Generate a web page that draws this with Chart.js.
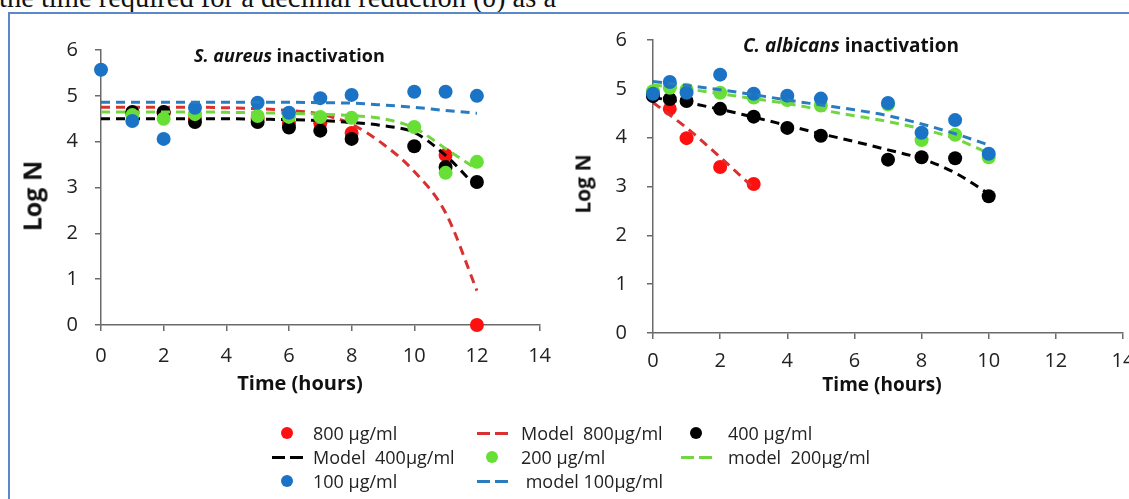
<!DOCTYPE html>
<html>
<head>
<meta charset="utf-8">
<script src="https://cdn.jsdelivr.net/npm/chart.js@4.4.1/dist/chart.umd.min.js"></script>
<style>
  html, body { margin: 0; padding: 0; background: #fff; }
  body { width: 1129px; height: 499px; overflow: hidden; position: relative; font-family: 'Open Sans', sans-serif; }
  #topText { position: absolute; left: -1px; top: -16px; font-family: 'Liberation Serif', serif; font-size: 28.5px; line-height: 1; white-space: pre; color: #111; }
  #frame { position: absolute; left: 8px; top: 12px; width: 2000px; height: 2000px; border-top: 2px solid #5a88c8; border-left: 2px solid #5a88c8; }
  canvas { position: absolute; top: 0; }
  #leftCanvas { left: 0; }
  #rightCanvas { left: 560px; }
  .plotTitle { position: absolute; font-weight: bold; line-height: 1; white-space: pre; color: #111; }
  .axisTitle { position: absolute; font-weight: bold; line-height: 1; white-space: pre; color: #111; transform: translate(-50%, -50%); }
  .axisTitle.vert { transform: translate(-50%, -50%) rotate(-90deg); }
  .legText { position: absolute; font-size: 18px; line-height: 24px; white-space: pre; color: #222; }
  .legDot { position: absolute; width: 12px; height: 12px; border-radius: 50%; }
  .legDash { position: absolute; width: 13px; height: 3px; }
</style>
</head>
<body>
<div id="topText">the time required for a decimal reduction (δ) as a</div>
<div id="frame"></div>
<canvas id="leftCanvas" width="564" height="400"></canvas>
<canvas id="rightCanvas" width="593" height="398"></canvas>
<div class="plotTitle" style="left:194px; top:46px; font-size:18px;"><i>S. aureus</i> inactivation</div>
<div class="plotTitle" style="left:743px; top:36px; font-size:19px;"><i>C. albicans</i> inactivation</div>
<div class="axisTitle" style="left:300px; top:383px; font-size:20px;">Time (hours)</div>
<div class="axisTitle" style="left:882px; top:384px; font-size:19px;">Time (hours)</div>
<div class="axisTitle vert" style="left:32px; top:196px; font-size:25px;">Log N</div>
<div class="axisTitle vert" style="left:583px; top:184px; font-size:21px;">Log N</div>
<div id="legend"></div>
<script>
// ---- S. aureus data ----
var saBlueTime = [0, 1, 2, 3, 5, 6, 7, 8, 10, 11, 12];
var saBlue = [5.57, 4.45, 4.06, 4.74, 4.85, 4.63, 4.95, 5.02, 5.09, 5.09, 5.0];
var saRedTime = [1, 2, 3, 5, 6, 7, 8, 11, 12];
var saRed = [4.62, 4.62, 4.5, 4.5, 4.4, 4.4, 4.19, 3.71, 0];
var saTime = [1, 2, 3, 5, 6, 7, 8, 10, 11, 12];
var saBlack = [4.65, 4.65, 4.43, 4.43, 4.31, 4.24, 4.06, 3.9, 3.45, 3.12];
var saGreen = [4.58, 4.5, 4.6, 4.56, 4.54, 4.54, 4.52, 4.32, 3.32, 3.56];

var saModelTime = [0, 1, 2, 3, 4, 5, 6, 7, 8, 9, 10, 11, 12];
var saRedModel = [4.75, 4.75, 4.75, 4.75, 4.74, 4.72, 4.68, 4.6, 4.38, 3.95, 3.35, 2.45, 0.75];
var saBlackModel = [4.5, 4.5, 4.5, 4.5, 4.5, 4.49, 4.48, 4.46, 4.42, 4.35, 4.2, 3.7, 3.0];
var saGreenModel = [4.65, 4.65, 4.65, 4.65, 4.64, 4.63, 4.62, 4.6, 4.57, 4.5, 4.3, 3.85, 3.4];
var saBlueModel = [4.86, 4.86, 4.86, 4.86, 4.86, 4.86, 4.86, 4.85, 4.84, 4.8, 4.75, 4.68, 4.62];

// ---- C. albicans data ----
var caTime = [0, 0.5, 1, 2, 3, 4, 5, 7, 8, 9, 10];
var caRedTime = [0, 0.5, 1, 2, 3];
var caRed = [4.88, 4.59, 3.99, 3.4, 3.05];
var caBlack = [4.85, 4.79, 4.75, 4.59, 4.43, 4.2, 4.04, 3.55, 3.6, 3.58, 2.8];
var caGreen = [4.95, 5.02, 4.98, 4.92, 4.82, 4.77, 4.66, 4.68, 3.95, 4.06, 3.6];
var caBlue = [4.9, 5.14, 4.92, 5.29, 4.9, 4.86, 4.8, 4.71, 4.1, 4.36, 3.67];

var caModelTime = [0, 1, 2, 3, 4, 5, 6, 7, 8, 9, 10];
var caRedModelTime = [0, 1, 2, 3];
var caRedModel = [4.72, 4.2, 3.6, 2.97];
var caBlackModel = [4.82, 4.72, 4.58, 4.42, 4.25, 4.08, 3.92, 3.75, 3.57, 3.28, 2.85];
var caGreenModel = [5.08, 5.0, 4.9, 4.8, 4.7, 4.57, 4.45, 4.33, 4.18, 3.98, 3.68];
var caBlueModel = [5.15, 5.07, 4.98, 4.88, 4.77, 4.67, 4.57, 4.45, 4.28, 4.08, 3.85];

// axis ticks
var xTicks = [0, 2, 4, 6, 8, 10, 12, 14];
var yTicks = [0, 1, 2, 3, 4, 5, 6];

// series labels (legend order)
var seriesLabels = ['800 µg/ml', 'Model  800µg/ml', '400 µg/ml', 'Model  400µg/ml',
                    '200 µg/ml', 'model  200µg/ml', '100 µg/ml', ' model 100µg/ml'];

var dotColors = { red: '#ff1010', black: '#000000', green: '#66e034', blue: '#1a73c5' };
var lineColors = { red: '#d93030', black: '#000000', green: '#72d640', blue: '#2a7cc0' };

Chart.defaults.font.family = "'Open Sans', sans-serif";

function pairs(xs, ys) {
  return xs.map(function(x, i) { return { x: x, y: ys[i] }; });
}

function dots(label, xs, ys, color, order) {
  return {
    label: label, data: pairs(xs, ys), showLine: false,
    pointRadius: 7, pointHoverRadius: 7, pointBorderWidth: 0,
    backgroundColor: color, borderColor: color, clip: false, order: order
  };
}

function model(label, xs, ys, color, order) {
  return {
    label: label, data: pairs(xs, ys), showLine: true, pointRadius: 0,
    borderColor: color, borderWidth: 3, borderDash: [9, 6],
    cubicInterpolationMode: 'monotone', fill: false, clip: false, order: order
  };
}

function makeOptions(cfg) {
  return {
    responsive: false,
    animation: false,
    events: [],
    layout: { padding: { top: cfg.top, right: cfg.right, left: 0, bottom: 0 } },
    plugins: { legend: { display: false }, tooltip: { enabled: false } },
    scales: {
      x: {
        type: 'linear', min: 0, max: 14,
        afterBuildTicks: function(scale) { scale.ticks = xTicks.map(function(v) { return { value: v }; }); },
        ticks: { padding: cfg.xPad, color: '#222', font: { size: 20 } },
        grid: { drawOnChartArea: false, drawTicks: true, tickLength: 6, color: '#6a6a6a', lineWidth: 1.5 },
        border: { color: '#6a6a6a', width: 1.5 },
        afterFit: function(scale) { scale.height = cfg.xHeight; }
      },
      y: {
        type: 'linear', min: 0, max: 6,
        afterBuildTicks: function(scale) { scale.ticks = yTicks.map(function(v) { return { value: v }; }); },
        ticks: { padding: cfg.yPad, color: '#222', font: { size: 20 } },
        grid: { drawOnChartArea: false, drawTicks: true, tickLength: 6, color: '#6a6a6a', lineWidth: 1.5 },
        border: { color: '#6a6a6a', width: 1.5 },
        afterFit: function(scale) { scale.width = cfg.yWidth; }
      }
    }
  };
}

// Excel series order: later series drawn on top -> lower "order" value on top in Chart.js
new Chart(document.getElementById('leftCanvas').getContext('2d'), {
  type: 'scatter',
  data: {
    datasets: [
      dots(seriesLabels[0], saRedTime, saRed, dotColors.red, 8),
      model(seriesLabels[1], saModelTime, saRedModel, lineColors.red, 7),
      dots(seriesLabels[2], saTime, saBlack, dotColors.black, 6),
      model(seriesLabels[3], saModelTime, saBlackModel, lineColors.black, 5),
      dots(seriesLabels[4], saTime, saGreen, dotColors.green, 4),
      model(seriesLabels[5], saModelTime, saGreenModel, lineColors.green, 3),
      dots(seriesLabels[6], saBlueTime, saBlue, dotColors.blue, 2),
      model(seriesLabels[7], saModelTime, saBlueModel, lineColors.blue, 1)
    ]
  },
  options: makeOptions({ top: 50, right: 16, xPad: 13, xHeight: 75, yPad: 17, yWidth: 101 })
});

new Chart(document.getElementById('rightCanvas').getContext('2d'), {
  type: 'scatter',
  data: {
    datasets: [
      dots(seriesLabels[0], caRedTime, caRed, dotColors.red, 8),
      model(seriesLabels[1], caRedModelTime, caRedModel, lineColors.red, 7),
      dots(seriesLabels[2], caTime, caBlack, dotColors.black, 6),
      model(seriesLabels[3], caModelTime, caBlackModel, lineColors.black, 5),
      dots(seriesLabels[4], caTime, caGreen, dotColors.green, 4),
      model(seriesLabels[5], caModelTime, caGreenModel, lineColors.green, 3),
      dots(seriesLabels[6], caTime, caBlue, dotColors.blue, 2),
      model(seriesLabels[7], caModelTime, caBlueModel, lineColors.blue, 1)
    ]
  },
  options: makeOptions({ top: 40, right: 30, xPad: 10, xHeight: 65, yPad: 20, yWidth: 93 })
});

// Legend (3 columns, 3 rows) built from the series labels
var legend = document.getElementById('legend');
var colSymbol = [287, 492, 696];
var colText = [313, 521, 728];
var rowMid = [433, 457, 481];
var legendColors = ['red', 'red', 'black', 'black', 'green', 'green', 'blue', 'blue'];
seriesLabels.forEach(function(label, i) {
  var row = Math.floor(i / 3), col = i % 3;
  var isModel = i % 2 === 1;
  var cx = colSymbol[col], cy = rowMid[row];
  if (isModel) {
    [-9, 9].forEach(function(off) {
      var d = document.createElement('div');
      d.className = 'legDash';
      d.style.left = (cx + off - 6.5) + 'px';
      d.style.top = (cy - 1.5) + 'px';
      d.style.background = lineColors[legendColors[i]];
      legend.appendChild(d);
    });
  } else {
    var dot = document.createElement('div');
    dot.className = 'legDot';
    dot.style.left = (cx - 6) + 'px';
    dot.style.top = (cy - 6) + 'px';
    dot.style.background = dotColors[legendColors[i]];
    legend.appendChild(dot);
  }
  var t = document.createElement('div');
  t.className = 'legText';
  t.textContent = label;
  t.style.left = colText[col] + 'px';
  t.style.top = (cy - 12) + 'px';
  legend.appendChild(t);
});
</script>
</body>
</html>
